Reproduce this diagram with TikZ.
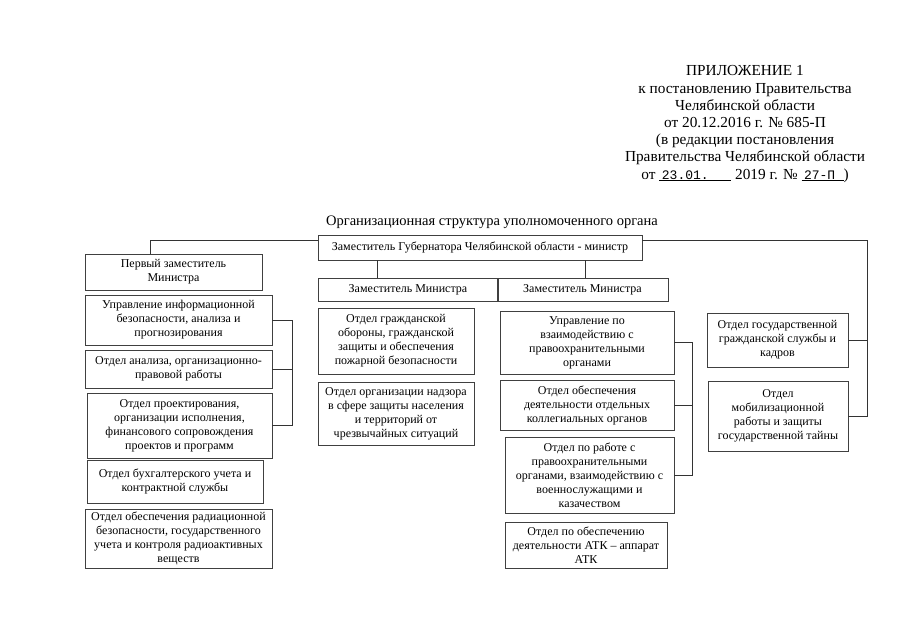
\documentclass[tikz,border=0pt]{standalone}
\usepackage{fontspec}
\setmainfont{Liberation Serif}
\newfontfamily\typedfont{Liberation Mono}
\usetikzlibrary{positioning}
\tikzset{
  unit/.style={draw=black!75, line width=0.6pt, align=center, inner sep=1pt,
    font=\fontsize{12}{14}\selectfont},
  link/.style={draw=black!80, line width=0.6pt}
}
\begin{document}
\begin{tikzpicture}[x=1pt, y=-1pt]
\useasboundingbox (0,0) rectangle (905,640);
% header of the appendix
\node[align=center, font=\fontsize{15.3}{17.2}\selectfont] (head) at (745,124)
  {ПРИЛОЖЕНИЕ 1\\к постановлению Правительства\\Челябинской области\\от 20.12.2016 г. № 685-П\\(в редакции постановления\\Правительства Челябинской области\\от \underline{\makebox[72pt][l]{\,\fontsize{13}{15}\typedfont 23.01.}} 2019 г. № \underline{\makebox[42pt][l]{\,\fontsize{13}{15}\typedfont 27-П}})};
\node[font=\fontsize{14.5}{17}\selectfont] (title) at (492,222) {Организационная структура уполномоченного органа};

% top level
\node[unit, minimum width=324pt, minimum height=25pt] (gov) at (480,247.5) {Заместитель Губернатора Челябинской области - министр};
\node[unit, minimum width=177pt, minimum height=36pt] (first) at (173.5,272) {Первый заместитель\\Министра};
\node[unit, minimum width=180pt, minimum height=23pt] (depA) at (408,289.5) {Заместитель Министра};
\node[unit, minimum width=171pt, minimum height=23pt] (depB) at (582.5,289.5) {Заместитель Министра};

% first deputy
\node[unit, minimum width=187pt, minimum height=50pt] (infsec) at (178.5,320) {Управление информационной\\безопасности, анализа и\\прогнозирования};
\node[unit, minimum width=187pt, minimum height=38pt] (legal) at (178.5,369) {Отдел анализа, организационно-\\правовой работы};
\node[unit, minimum width=185pt, minimum height=65pt] (proj) at (179.5,425.5) {Отдел проектирования,\\организации исполнения,\\финансового сопровождения\\проектов и программ};
\node[unit, minimum width=176pt, minimum height=43pt] (acct) at (175,481.5) {Отдел бухгалтерского учета и\\контрактной службы};
\node[unit, minimum width=187pt, minimum height=59pt] (rad) at (178.5,538.5) {Отдел обеспечения радиационной\\безопасности, государственного\\учета и контроля радиоактивных\\веществ};

% deputy A
\node[unit, minimum width=156pt, minimum height=66pt] (civdef) at (396,341) {Отдел гражданской\\обороны, гражданской\\защиты и обеспечения\\пожарной безопасности};
\node[unit, minimum width=156pt, minimum height=63pt] (emerg) at (396,413.5) {Отдел организации надзора\\в сфере защиты населения\\и территорий от\\чрезвычайных ситуаций};

% deputy B
\node[unit, minimum width=174pt, minimum height=63pt] (police) at (587,342.5) {Управление по\\взаимодействию с\\правоохранительными\\органами};
\node[unit, minimum width=174pt, minimum height=50pt] (coll) at (587,405) {Отдел обеспечения\\деятельности отдельных\\коллегиальных органов};
\node[unit, minimum width=169pt, minimum height=76pt] (cossack) at (589.5,475) {Отдел по работе с\\правоохранительными\\органами, взаимодействию с\\военнослужащими и\\казачеством};
\node[unit, minimum width=162pt, minimum height=46pt] (atk) at (586,545) {Отдел по обеспечению\\деятельности АТК -- аппарат\\АТК};

% under the minister
\node[unit, minimum width=141pt, minimum height=54pt] (staff) at (777.5,340) {Отдел государственной\\гражданской службы и\\кадров};
\node[unit, minimum width=140pt, minimum height=70pt] (mob) at (778,416) {Отдел\\мобилизационной\\работы и защиты\\государственной тайны};

% connectors
\coordinate (busL) at (150,240);
\coordinate (busR) at (867,240);
\coordinate (tapA) at (377,0);
\coordinate (tapB) at (585,0);
\coordinate (brL) at (292,0);
\coordinate (brR) at (692,0);
\draw[link] (first.north -| busL) -- (busL) -- (busL -| gov.west);
\draw[link] (busR -| gov.east) -- (busR) |- (mob.east);
\draw[link] (staff.east) -- (staff.east -| busR);
\draw[link] (gov.south -| tapA) -- (depA.north -| tapA);
\draw[link] (gov.south -| tapB) -- (depB.north -| tapB);
\draw[link] (infsec.east) -- (infsec.east -| brL) |- (proj.east);
\draw[link] (legal.east) -- (legal.east -| brL);
\draw[link] (police.east) -- (police.east -| brR) |- (cossack.east);
\draw[link] (coll.east) -- (coll.east -| brR);
\end{tikzpicture}
\end{document}
